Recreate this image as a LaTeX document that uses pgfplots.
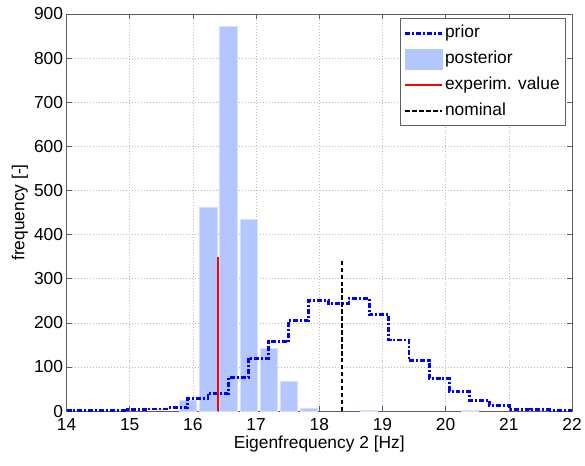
\documentclass[border=0pt]{standalone}
\usepackage{pgfplots}
\pgfplotsset{compat=1.18}
\usepackage{fontspec}
\setmainfont{Liberation Sans}
\definecolor{priorblue}{RGB}{0,0,255}
\definecolor{postblue}{RGB}{179,198,255}
\definecolor{axgray}{RGB}{95,95,95}

\begin{document}
\begin{tikzpicture}
\begin{axis}[
  scale only axis, width=509pt, height=400pt,
  xmin=14, xmax=22, ymin=0, ymax=900,
  xtick={14,...,22}, ytick={0,100,...,900},
  tick pos=both, tick align=inside, major tick length=5pt,
  every tick/.style={axgray, line width=0.6pt},
  axis line style={axgray, line width=0.8pt},
  grid=major,
  major grid style={gray!55, line width=0.6pt, dash pattern=on 1pt off 2pt},
  font=\fontsize{17.5}{21}\selectfont,
  /pgf/number format/assume math mode=true,
  xticklabel style={yshift=-4pt},
  xlabel={Eigenfrequency 2 [Hz]}, ylabel={frequency [-]},
  xlabel style={at={(axis description cs:0.5,-0.0825)}, anchor=center},
  ylabel style={at={(axis description cs:-0.0923,0.5)}, anchor=center},
  legend style={at={(0.987,0.9885)}, anchor=north east, draw=axgray,
    line width=0.6pt, fill=white, cells={anchor=west}, row sep=5pt,
    inner xsep=4pt, inner ysep=4pt,
    nodes={inner xsep=1.5pt, inner ysep=2pt, text height=13pt, text depth=4pt}},
  legend image code/.code={\draw[#1] (0pt,0pt) -- (37pt,0pt);},
]
% posterior histogram
\addplot[ybar, bar width=0.272, bar shift=0pt, fill=postblue,
  draw=postblue!55!white, line width=0.5pt, forget plot] coordinates {
  (15.924,25) (16.242,463) (16.560,872) (16.878,435) (17.196,143)
  (17.514,68) (17.832,6) (18.786,2) (20.376,1)};
% prior stairs
\addplot[priorblue, line width=2.8pt, line cap=butt,
  dash pattern=on 5pt off 2pt on 2pt off 2pt, const plot mark left]
  coordinates {
  (14,1) (14.97,3) (15.29,5) (15.61,8) (15.92,29) (16.24,40) (16.56,77)
  (16.88,120) (17.20,157) (17.51,206) (17.83,251) (18.15,244) (18.47,256)
  (18.79,219) (19.10,161) (19.42,114) (19.74,74) (20.06,45) (20.38,24)
  (20.69,13) (21.01,4) (21.33,3) (21.65,2) (22,2)};
\addlegendentry{prior}
\addlegendimage{legend image code/.code={\fill[postblue] (0pt,-10pt) rectangle (37pt,10pt);}}
\addlegendentry{posterior}
\addplot[red, line width=1.8pt] coordinates {(16.40,0) (16.40,350)};
\addlegendentry{experim. value}
\addplot[black, line width=2pt, dash pattern=on 4.5pt off 2.5pt] coordinates {(18.36,0) (18.36,345)};
\addlegendentry{nominal}
\end{axis}
\path ([xshift=-67pt,yshift=-55pt]current axis.south west) rectangle ([xshift=9pt,yshift=14pt]current axis.north east);
\end{tikzpicture}
\end{document}
